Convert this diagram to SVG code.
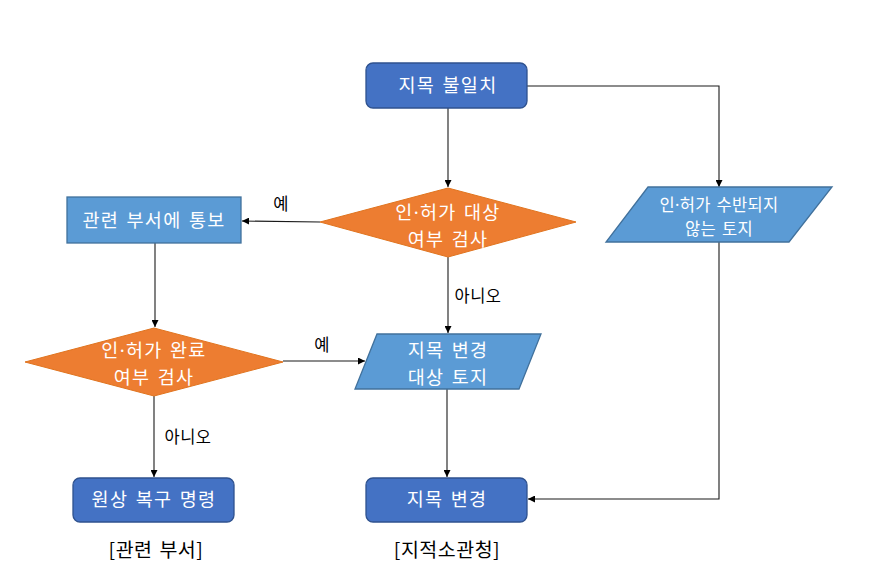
<svg xmlns="http://www.w3.org/2000/svg" width="875" height="572" viewBox="0 0 875 572">
<style>
.dk{fill:#4472C4;stroke:#2F528F;stroke-width:1.3}
.lt{fill:#5B9BD5;stroke:#41719C;stroke-width:1.3}
.or{fill:#ED7D31;stroke:#E0741F;stroke-width:1}
.t{font-family:"Malgun Gothic","Noto Sans CJK KR",sans-serif;fill:#fff;text-anchor:middle;font-size:18.5px;letter-spacing:1.3px;word-spacing:2px}
.ts{font-size:16.5px;letter-spacing:0.3px}
.d{font-family:"Noto Sans",sans-serif}
.l{font-family:"Malgun Gothic","Noto Sans CJK KR",sans-serif;fill:#000;font-size:16.5px;text-anchor:middle;letter-spacing:0.5px}
.cap{font-size:19.5px;letter-spacing:0.5px;word-spacing:2px}
.c{fill:none;stroke:#1a1a1a;stroke-width:1.1}
</style>
<defs>
<marker id="a" viewBox="0 0 10 10" refX="10" refY="5" markerWidth="7" markerHeight="7" markerUnits="userSpaceOnUse" orient="auto"><path d="M0,0L10,5L0,10z" fill="#000"/></marker>
</defs>
<rect width="875" height="572" fill="#fff"/>
<g id="connectors">
<path class="c" d="M448,108V187" marker-end="url(#a)"/>
<path class="c" d="M527,86H719V187" marker-end="url(#a)"/>
<path class="c" d="M320,222L242,221" marker-end="url(#a)"/>
<path class="c" d="M448,257V333" marker-end="url(#a)"/>
<path class="c" d="M155,243L155,327" marker-end="url(#a)"/>
<path class="c" d="M283,361H365" marker-end="url(#a)"/>
<path class="c" d="M154,396V477" marker-end="url(#a)"/>
<path class="c" d="M447,389V477" marker-end="url(#a)"/>
<path class="c" d="M719,242V499H528" marker-end="url(#a)"/>
<text class="l" x="281" y="210">예</text>
<text class="l" x="322" y="351">예</text>
<text class="l" x="478" y="302">아니오</text>
<text class="l" x="188" y="443">아니오</text>
</g>
<g id="n1"><rect class="dk" x="366" y="63" width="161" height="45" rx="7"/><text class="t" x="448" y="92">지목 불일치</text></g>
<g id="n2"><path class="or" d="M320,222L448,188L576,222L448,257z"/><text class="t" x="448" y="219">인<tspan class="d">·</tspan>허가 대상</text><text class="t" x="448" y="246">여부 검사</text></g>
<g id="n3"><path class="lt" d="M648,187H832L789,242H606z"/><text class="t ts" x="719" y="211">인<tspan class="d">·</tspan>허가 수반되지</text><text class="t ts" x="719" y="235">않는 토지</text></g>
<g id="n4"><rect class="lt" x="67" y="197" width="174" height="46"/><text class="t" x="154" y="227">관련 부서에 통보</text></g>
<g id="n5"><path class="or" d="M25,362L154,328L283,362L154,396z"/><text class="t" x="154" y="357">인<tspan class="d">·</tspan>허가 완료</text><text class="t" x="154" y="384">여부 검사</text></g>
<g id="n6"><path class="lt" d="M377,334H541L519,389H355z"/><text class="t" x="448" y="357">지목 변경</text><text class="t" x="448" y="384">대상 토지</text></g>
<g id="n7"><rect class="dk" x="73" y="478" width="161" height="44" rx="7"/><text class="t" x="154" y="506">원상 복구 명령</text></g>
<g id="n8"><rect class="dk" x="366" y="478" width="161" height="44" rx="7"/><text class="t" x="447" y="506">지목 변경</text></g>
<g id="captions">
<text class="l cap" x="156" y="557">[관련 부서]</text>
<text class="l cap" x="447" y="557">[지적소관청]</text>
</g>
</svg>
